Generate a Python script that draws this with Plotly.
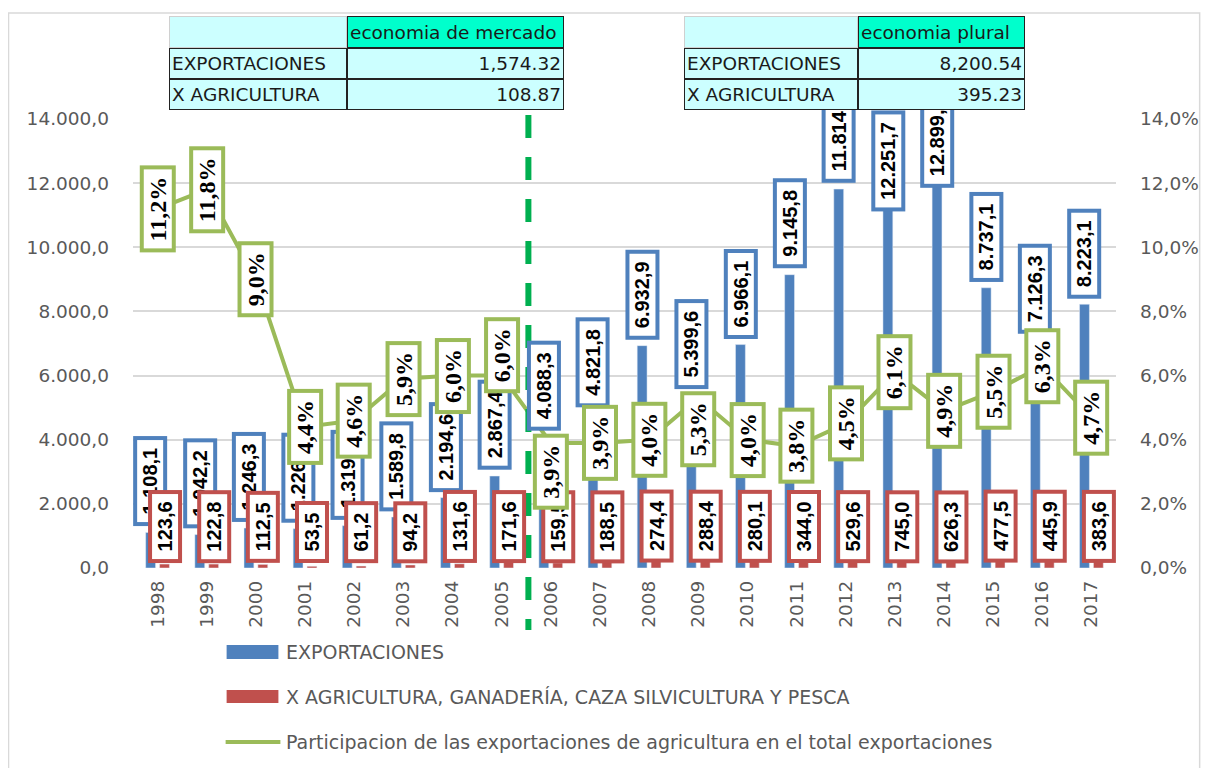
import plotly.graph_objects as go

# ---------------------------------------------------------------- data
years = [str(y) for y in range(1998, 2018)]
exportaciones = [1108.1, 1042.2, 1246.3, 1226.2, 1319.9, 1589.8, 2194.6, 2867.4,
                 4088.3, 4821.8, 6932.9, 5399.6, 6966.1, 9145.8, 11814.5, 12251.7,
                 12899.3, 8737.1, 7126.3, 8223.1]
agricultura = [123.6, 122.8, 112.5, 53.5, 61.2, 94.2, 131.6, 171.6,
               159.5, 188.5, 274.4, 288.4, 280.1, 344.0, 529.6, 745.0,
               626.3, 477.5, 445.9, 383.6]
participacion = [11.2, 11.8, 9.0, 4.4, 4.6, 5.9, 6.0, 6.0, 3.9, 3.9,
                 4.0, 5.3, 4.0, 3.8, 4.5, 6.1, 4.9, 5.5, 6.3, 4.7]

series_names = ["EXPORTACIONES",
                "X AGRICULTURA, GANADERÍA, CAZA SILVICULTURA Y PESCA",
                "Participacion de las exportaciones de agricultura en el total exportaciones"]

tabla_periodos = ["economia de mercado", "economia plural"]
tabla_filas = ["EXPORTACIONES", "X AGRICULTURA"]
tabla_exp = [1574.32, 8200.54]
tabla_agr = [108.87, 395.23]

# ---------------------------------------------------------------- style
OFS = 8                      # page body margin of the html output
W, H = 1211 - OFS, 768 - OFS
L, R, T, B = 133 - OFS, 91, 119 - OFS, 200
PW, PH = W - L - R, H - T - B
BLUE, RED, GREEN = "#4F81BD", "#C0504D", "#9BBB59"
GRAY = "#595959"
AXFONT = "DejaVu Sans"
BARGAP = 0.435

# label fine-tuning (pixels), Excel moved a few labels by hand
exp_label_shift = [0] * 15 + [-42, -40] + [0] * 3
pct_label_shift = [0] * 7 + [20, -29, 0, 0, -31] + [0] * 8


def px(x):
    # screen pixel -> paper
    return (x - OFS - L) / PW


def py(y):
    return (H - B - (y - OFS)) / PH


def es(v):
    s = f"{v:,.1f}"
    return s.replace(",", "X").replace(".", ",").replace("X", ".")


NB = "\u00a0"

fig = go.Figure()
fig.add_trace(go.Bar(x=years, y=exportaciones, name=series_names[0],
                     marker_color=BLUE, showlegend=False))
fig.add_trace(go.Bar(x=years, y=agricultura, name=series_names[1],
                     marker_color=RED, showlegend=False))
fig.add_trace(go.Scatter(x=years, y=participacion, name=series_names[2], yaxis="y2",
                         mode="lines", line=dict(color=GREEN, width=4),
                         showlegend=False))

off = (1 - BARGAP) / 4 * PW / len(years)
ann = []
for i in range(len(years)):
    ann.append(dict(x=i, y=exportaciones[i], xref="x", yref="y", xshift=-off,
                    yanchor="bottom", yshift=6 + exp_label_shift[i],
                    text=NB + "<b>" + es(exportaciones[i]) + "</b>" + NB,
                    textangle=-90, showarrow=False,
                    font=dict(family="Liberation Sans", size=20, color="black"),
                    bgcolor="white", bordercolor=BLUE, borderwidth=4, borderpad=2))
for i in range(len(years)):
    ann.append(dict(x=i, y=0, xref="x", yref="y", xshift=off,
                    yanchor="bottom", yshift=5,
                    text=NB + "<b>" + es(agricultura[i]) + "</b>" + NB,
                    textangle=-90, showarrow=False,
                    font=dict(family="Liberation Sans", size=20, color="black"),
                    bgcolor="white", bordercolor=RED, borderwidth=4, borderpad=2))
for i in range(len(years)):
    ann.append(dict(x=i, y=participacion[i], xref="x", yref="y2",
                    yanchor="middle", yshift=pct_label_shift[i],
                    text=NB + "<b>" + es(participacion[i]) + "%</b>" + NB,
                    textangle=-90, showarrow=False,
                    font=dict(family="Liberation Serif", size=24, color="black"),
                    bgcolor="white", bordercolor=GREEN, borderwidth=4, borderpad=1))

# tables on top of the chart
tables = [(170, 348, 565), (687, 861, 1028)]
rows_y = [16, 48, 79, 110]
for k, (x0, x1, x2) in enumerate(tables):
    cells = [
        (x0, x1, 0, "", "#CCFFFF", "#d0d0d0", "left"),
        (x1, x2, 0, tabla_periodos[k], "#00FFCC", "#222222", "left"),
        (x0, x1, 1, tabla_filas[0], "#CCFFFF", "#222222", "left"),
        (x1, x2, 1, f"{tabla_exp[k]:,.2f}", "#CCFFFF", "#222222", "right"),
        (x0, x1, 2, tabla_filas[1], "#CCFFFF", "#222222", "left"),
        (x1, x2, 2, f"{tabla_agr[k]:,.2f}", "#CCFFFF", "#222222", "right"),
    ]
    for a, b, r, txt, bg, bc, al in cells:
        ya, yb = rows_y[r], rows_y[r + 1]
        ann.append(dict(x=px((a + b) / 2), y=py((ya + yb) / 2), xref="paper", yref="paper",
                        xanchor="center", yanchor="middle",
                        width=b - a - 6, height=yb - ya - 6, align=al, valign="middle",
                        text=txt, showarrow=False,
                        font=dict(family=AXFONT, size=18.5, color="#1a1a1a"),
                        bgcolor=bg, bordercolor=bc, borderwidth=1, borderpad=2))

# legend
leg_y = [652, 697, 742]
for j, name in enumerate(series_names):
    ann.append(dict(x=px(285), y=py(leg_y[j]), xref="paper", yref="paper",
                    xanchor="left", yanchor="middle", text=name, showarrow=False,
                    font=dict(family=AXFONT, size=19, color=GRAY)))

shapes = [
    dict(type="rect", xref="paper", yref="paper", x0=px(8), x1=px(1204), y0=py(13), y1=py(800),
         line=dict(color="#d9d9d9", width=1.5), layer="below"),
    dict(type="rect", xref="paper", yref="paper", x0=px(227), x1=px(279), y0=py(645), y1=py(659),
         fillcolor=BLUE, line_width=0),
    dict(type="rect", xref="paper", yref="paper", x0=px(227), x1=px(279), y0=py(690), y1=py(703),
         fillcolor=RED, line_width=0),
    dict(type="line", xref="paper", yref="paper", x0=px(226), x1=px(281), y0=py(742), y1=py(742),
         line=dict(color=GREEN, width=4)),
    dict(type="line", xref="paper", yref="paper", x0=px(530), x1=px(530), y0=py(115), y1=py(630),
         line=dict(color="#00B050", width=6, dash="23px,19px"), layer="above"),
]

fig.update_layout(
    width=W, height=H, margin=dict(l=L, r=R, t=T, b=B),
    paper_bgcolor="white", plot_bgcolor="white",
    separators=",.",
    barmode="group", bargap=BARGAP, bargroupgap=0.29,
    xaxis=dict(type="category", range=[-0.5, len(years) - 0.5], tickangle=-90,
               showgrid=False, showline=False, ticks="",
               tickfont=dict(family=AXFONT, size=18.5, color=GRAY), ticklabelstandoff=8),
    yaxis=dict(range=[0, 14000], dtick=2000, tickformat=",.1f", gridcolor="#d9d9d9",
               gridwidth=1.5, zeroline=False, showline=False, ticks="",
               tickfont=dict(family=AXFONT, size=18.5, color=GRAY), ticklabelstandoff=23),
    yaxis2=dict(range=[0, 14], dtick=2, tickformat=".1f", ticksuffix="%", overlaying="y",
                side="right", showgrid=False, zeroline=False, showline=False, ticks="",
                tickfont=dict(family=AXFONT, size=18.5, color=GRAY), ticklabelstandoff=23),
    annotations=ann, shapes=shapes,
)

fig.write_html("out.html")
